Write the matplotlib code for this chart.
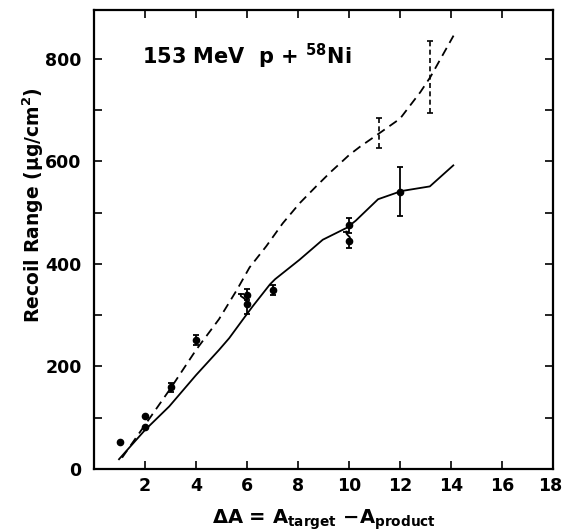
import matplotlib.pyplot as plt

# measured recoil ranges (filled points)
PT_X = [1, 2, 2, 3, 4, 6, 6, 7, 10, 10, 12]
PT_Y = [53, 103, 81, 159, 252, 340, 321, 349, 475, 445, 541]
PT_ERR_LO = [0, 0, 0, 9, 10, 10, 19, 10, 14, 14, 47]
PT_ERR_HI = [0, 0, 0, 9, 10, 10, 0, 10, 14, 0, 47]

# hooked upper bars on the lower points at dA = 6 and 10
HOOK6_X = [6.0, 5.97, 5.85, 5.76, 5.75]
HOOK6_Y = [321, 329, 334, 337, 341]
HOOK10_X = [10.06, 10.03, 9.95, 9.9, 9.9]
HOOK10_Y = [445, 452, 456, 459, 463]

# solid curve
SOLID_X = [0.98, 2.0, 2.95, 4.0, 4.9, 5.3, 5.92, 6.22, 6.9, 7.1, 8.06, 8.97,
           9.9, 10.26, 11.14, 12.06, 13.17, 14.09]
SOLID_Y = [19, 76, 122, 183, 232, 255, 297, 317, 360, 370, 408, 447,
           470, 484, 526, 542, 551, 592]

# dashed curve
DASH_X = [1.1, 2.0, 3.0, 4.0, 4.9, 5.6, 6.1, 6.75, 7.4, 8.06, 8.71, 9.3,
          9.63, 10.0, 10.42, 11.2, 12.0, 12.8, 13.2, 14.1]
DASH_Y = [22, 86, 157, 232, 292, 349, 393, 434, 479, 518, 551, 580,
          595, 612, 628, 655, 683, 735, 765, 845]

# dashed error bars (no marker)
DBAR_X = [11.18, 13.17]
DBAR_Y = [655, 765]
DBAR_ERR = [29, 70]

X_TICKS = [2, 4, 6, 8, 10, 12, 14, 16, 18]
X_LABELS = ["2", "4", "6", "8", "10", "12", "14", "16", ""]
Y_TICKS = [0, 100, 200, 300, 400, 500, 600, 700, 800]
Y_LABELS = ["0", "", "200", "", "400", "", "600", "", "800"]

plt.rcParams["font.family"] = ["DejaVu Sans"]
plt.rcParams["font.weight"] = "bold"
plt.rcParams["mathtext.fontset"] = "dejavusans"
plt.rcParams["mathtext.default"] = "bf"

fig = plt.figure(figsize=(5.64, 5.31), dpi=100)
ax = fig.add_axes([0.1667, 0.1168, 0.8138, 0.8644])

ax.plot(SOLID_X, SOLID_Y, color="black", lw=1.3)
ax.plot(DASH_X, DASH_Y, color="black", lw=1.3, dashes=(5, 3.2))

ax.errorbar(PT_X, PT_Y, yerr=[PT_ERR_LO, PT_ERR_HI], fmt="o", color="black",
            ms=4.5, elinewidth=1.3, capsize=2.5, capthick=1.3)

for hx, hy in [(HOOK6_X, HOOK6_Y), (HOOK10_X, HOOK10_Y)]:
    ax.plot(hx, hy, color="black", lw=1.3)
    ax.plot(hx[-1:], hy[-1:], marker="_", ms=5, mew=1.3, color="black")

eb = ax.errorbar(DBAR_X, DBAR_Y, yerr=DBAR_ERR, fmt="none", ecolor="black",
                 elinewidth=1.2, capsize=2.5, capthick=1.2)
eb[2][0].set_linestyle((0, (3, 2)))

ax.text(0.105, 0.882, r"153 MeV  p + $^{58}$Ni", transform=ax.transAxes,
        fontsize=15, fontweight="bold", va="baseline")

ax.set_xlim(0, 18)
ax.set_ylim(0, 895)
ax.set_xticks(X_TICKS)
ax.set_xticklabels(X_LABELS)
ax.set_yticks(Y_TICKS)
ax.set_yticklabels(Y_LABELS)
ax.tick_params(direction="in", length=6, width=1.2, top=True, right=True,
               labelsize=12.5)
ax.tick_params(axis="x", pad=6)
ax.tick_params(axis="y", pad=9)
for sp in ax.spines.values():
    sp.set_linewidth(1.6)

# last x label sits right on the figure edge, nudge it in a little
ax.annotate("18", xy=(18, 0), xycoords="data", xytext=(-2, -6),
            textcoords="offset points", ha="center", va="top",
            fontsize=12.5, fontweight="bold")

ax.set_xlabel(r"$\Delta$A = A$_{\mathbf{target}}$ $-$A$_{\mathbf{product}}$",
              fontsize=14, fontweight="bold")
ax.xaxis.set_label_coords(0.5, -0.085)
ax.set_ylabel(r"Recoil Range ($\mu$g/cm$^2$)", fontsize=13.5, fontweight="bold")
ax.yaxis.set_label_coords(-0.105, 0.575)

fig.savefig("out.png", dpi=100)
